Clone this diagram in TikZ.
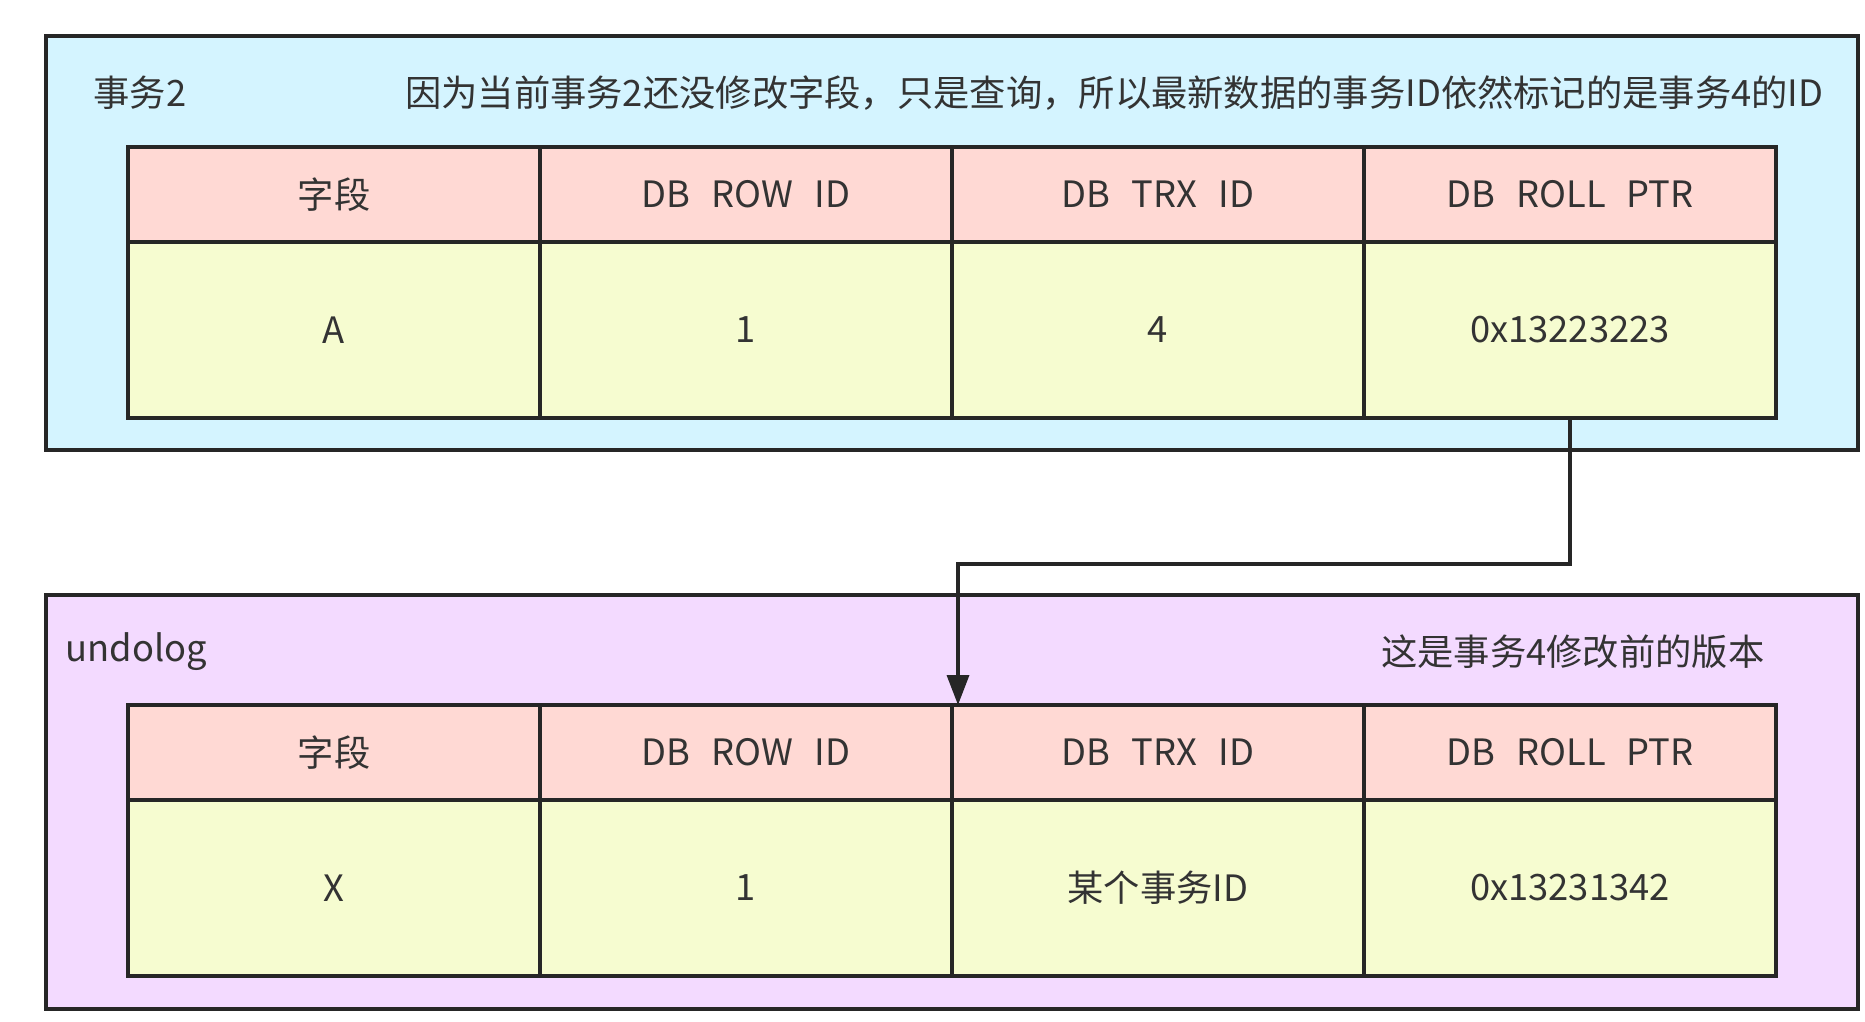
\documentclass[tikz,border=0pt]{standalone}
\usepackage{fontspec}
\setmainfont{Noto Sans CJK SC}[WordSpace=2.6]
\usetikzlibrary{positioning}
\usetikzlibrary{arrows.meta}

\definecolor{trxfill}{RGB}{212,244,255}
\definecolor{undofill}{RGB}{243,218,255}
\definecolor{headfill}{RGB}{255,217,212}
\definecolor{datafill}{RGB}{246,252,208}
\definecolor{inkgray}{RGB}{51,51,51}

\begin{document}
\begin{tikzpicture}[
            x=1pt, y=-1pt,
            every node/.style={
                font=\fontsize{36.3}{43}\selectfont,
                text=inkgray
            },
            outerbox/.style={
                draw=black!85,
                line width=4pt,
                anchor=north west,
                inner sep=0pt,
                outer sep=0pt,
                minimum width=1812pt,
                minimum height=414pt
            },
            headcell/.style={
                draw=black!85,
                line width=4pt,
                fill=headfill,
                inner sep=0pt,
                outer sep=0pt,
                minimum width=412pt,
                minimum height=95pt
            },
            datacell/.style={
                headcell,
                fill=datafill,
                minimum height=176pt
            },
            ptr/.style={
                line width=3.5pt,
                draw=black!85,
                -{Triangle[length=30pt,width=22pt]}
            }
        ]
        \useasboundingbox (0,0) rectangle (1865,1021);
        % top: current row seen by trx 2
        \node[outerbox, fill=trxfill] (trx) at (46,36) {};
        \node[anchor=west] (trxname) at (90,93) {事务2};
        \node[anchor=east] (trxnote) at (1827,93) {因为当前事务2还没修改字段，只是查询，所以最新数据的事务ID依然标记的是事务4的ID};
        \foreach \head/\val [count=\i] in {字段/A, DB ROW ID/1, DB TRX ID/4, DB ROLL PTR/0x13223223} {
            \node[headcell, anchor=north west] (h\i) at (128+412*\i-412,147) {\head};
            \node[datacell, below=0pt of h\i] (d\i) {\val};
        }
        % bottom: undolog copy
        \node[outerbox, fill=undofill] (undo) at (46,595) {};
        \node[anchor=west] (undoname) at (62,652) {undolog};
        \node[anchor=east] (undonote) at (1768,652) {这是事务4修改前的版本};
        \foreach \head/\val [count=\i] in {字段/X, DB ROW ID/1, DB TRX ID/某个事务ID, DB ROLL PTR/0x13231342} {
            \node[headcell, anchor=north west] (uh\i) at (128+412*\i-412,705) {\head};
            \node[datacell, below=0pt of uh\i] (ud\i) {\val};
        }
        \coordinate (turn) at ([xshift=6pt]uh3.north west |- 0,564);
        \draw[ptr] (d4.south) |- (turn) -- ([xshift=6pt]uh3.north west);
\end{tikzpicture}
\end{document}
